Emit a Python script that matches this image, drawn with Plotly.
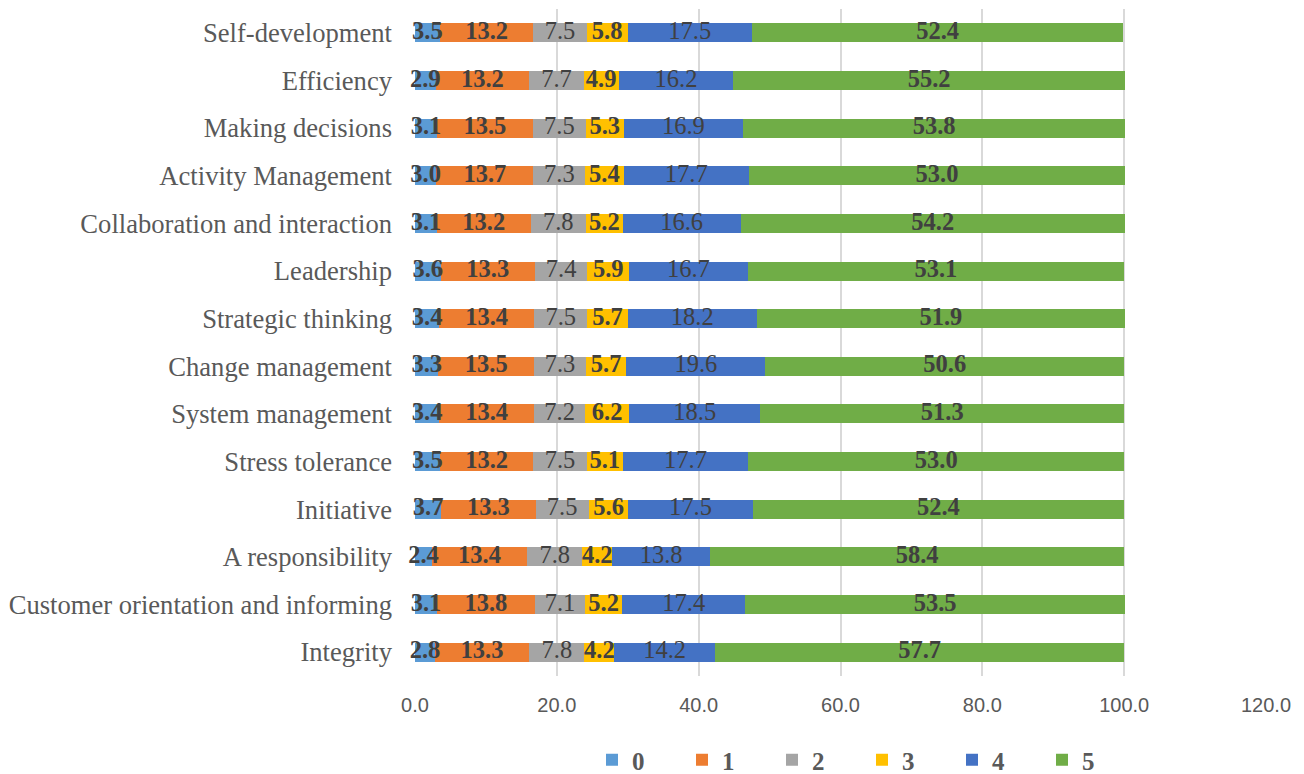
import plotly.graph_objects as go

categories = ["Self-development", "Efficiency", "Making decisions", "Activity Management",
              "Collaboration and interaction", "Leadership", "Strategic thinking",
              "Change management", "System management", "Stress tolerance", "Initiative",
              "A responsibility", "Customer orientation and informing", "Integrity"]

s0 = [3.5, 2.9, 3.1, 3.0, 3.1, 3.6, 3.4, 3.3, 3.4, 3.5, 3.7, 2.4, 3.1, 2.8]
s1 = [13.2, 13.2, 13.5, 13.7, 13.2, 13.3, 13.4, 13.5, 13.4, 13.2, 13.3, 13.4, 13.8, 13.3]
s2 = [7.5, 7.7, 7.5, 7.3, 7.8, 7.4, 7.5, 7.3, 7.2, 7.5, 7.5, 7.8, 7.1, 7.8]
s3 = [5.8, 4.9, 5.3, 5.4, 5.2, 5.9, 5.7, 5.7, 6.2, 5.1, 5.6, 4.2, 5.2, 4.2]
s4 = [17.5, 16.2, 16.9, 17.7, 16.6, 16.7, 18.2, 19.6, 18.5, 17.7, 17.5, 13.8, 17.4, 14.2]
s5 = [52.4, 55.2, 53.8, 53.0, 54.2, 53.1, 51.9, 50.6, 51.3, 53.0, 52.4, 58.4, 53.5, 57.7]

series_names = ["0", "1", "2", "3", "4", "5"]
series_values = [s0, s1, s2, s3, s4, s5]
colors = ["#5B9BD5", "#ED7D31", "#A5A5A5", "#FFC000", "#4472C4", "#70AD47"]
bold = [True, True, False, True, False, True]

LABEL_SIZE = 24.5

fig = go.Figure()
for name, vals, col in zip(series_names, series_values, colors):
    fig.add_trace(go.Bar(
        y=categories, x=vals, name=name, orientation="h",
        marker=dict(color=col, line=dict(width=0)),
        textposition="none", hoverinfo="skip",
    ))

# data labels drawn on top of all bars, centred in each segment
starts = [0.0] * len(categories)
for vals, b in zip(series_values, bold):
    mids = [s + v / 2 for s, v in zip(starts, vals)]
    texts = [("<b>%.1f</b>" % v) if b else ("%.1f" % v) for v in vals]
    fig.add_trace(go.Scatter(
        y=categories, x=mids, mode="text", text=texts, textposition="middle center",
        textfont=dict(family="Liberation Serif", size=LABEL_SIZE, color="#404040"),
        showlegend=False, hoverinfo="skip", cliponaxis=False,
    ))
    starts = [s + v for s, v in zip(starts, vals)]

# page body has an 8px margin, so the figure is offset by 8px
fig.update_layout(
    barmode="stack", bargap=0.6,
    width=1288, height=766,
    margin=dict(l=407, r=30, t=1, b=98, autoexpand=False),
    paper_bgcolor="white", plot_bgcolor="white",
    legend=dict(orientation="h", x=(592 - 415) / 851, xanchor="left",
                y=-(752 - 668) / 667, yanchor="middle",
                entrywidth=45, traceorder="normal",
                font=dict(family="Liberation Serif", size=25, color="#595959", weight="bold")),
    showlegend=True,
)
fig.update_xaxes(range=[0, 120], dtick=20, tickformat=".1f",
                 showgrid=True, gridcolor="#D9D9D9", gridwidth=1.5,
                 zeroline=False, showline=False, ticks="", ticklabelstandoff=15,
                 tickfont=dict(family="Liberation Sans", size=20, color="#595959"))
fig.update_yaxes(range=[len(categories) - 0.5, -0.5], showgrid=False, zeroline=False,
                 showline=False, ticks="", ticklabelstandoff=22, automargin=False,
                 tickfont=dict(family="Liberation Serif", size=26.6, color="#595959"))

fig.write_html("out.html")
